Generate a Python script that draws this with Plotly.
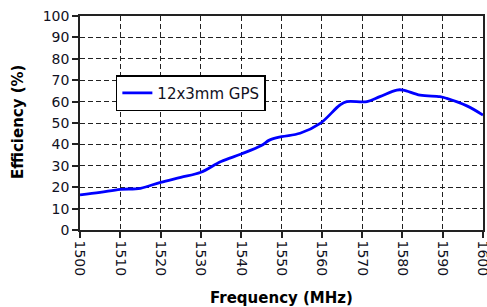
import plotly.graph_objects as go

freq = [1500, 1505, 1510, 1515, 1520, 1525, 1530, 1535, 1540, 1545, 1547, 1550, 1554.6, 1559.6, 1564.5, 1566.2, 1571.2, 1574.4, 1578.6, 1580.2, 1584.4, 1589.3, 1591, 1596, 1600]
eff = [16.4, 17.6, 19.0, 19.5, 22.3, 24.6, 27.0, 32.0, 35.5, 39.5, 42.0, 43.6, 45.2, 49.8, 58.4, 60.0, 60.0, 62.3, 65.4, 65.4, 63.0, 62.3, 61.5, 58.0, 53.7]
series_name = "12x3mm GPS"
x_ticks = list(range(1500, 1601, 10))
y_ticks = list(range(0, 101, 10))
x_title = "Frequency (MHz)"
y_title = "Efficiency (%)"

FONT = "DejaVu Sans"
TXT = "#111122"

fig = go.Figure()
fig.add_trace(go.Scatter(x=freq, y=eff, mode="lines", name=series_name,
                         line=dict(color="#0000ff", width=2.8), line_shape="spline"))

axis_common = dict(showline=True, linecolor="#222", linewidth=1.5, mirror=True,
                   showgrid=True, gridcolor="#222", griddash="5px,3px", gridwidth=1.2,
                   ticks="outside", ticklen=6, tickcolor="#222", tickwidth=1.5,
                   zeroline=False, automargin=False, ticklabeloverflow="allow",
                   tickfont=dict(family=FONT, size=14, color=TXT))

fig.update_xaxes(range=[1500, 1600], tickvals=x_ticks, tickangle=90, **axis_common)
fig.update_yaxes(range=[0, 100], tickvals=y_ticks, **axis_common)

fig.add_annotation(text="<b>%s</b>" % x_title, xref="paper", yref="paper",
                   x=0.5, y=-0.318, xanchor="center", yanchor="middle", showarrow=False,
                   font=dict(family=FONT, size=15, color="black"))
fig.add_annotation(text="<b>%s</b>" % y_title, xref="paper", yref="paper",
                   x=-0.154, y=0.509, xanchor="center", yanchor="middle", showarrow=False,
                   textangle=-90, font=dict(family=FONT, size=15, color="black"))

fig.update_layout(width=487, height=307, margin=dict(l=80, r=4, t=16, b=77),
                  paper_bgcolor="white", plot_bgcolor="white",
                  showlegend=True,
                  legend=dict(x=0.089, y=0.724, xanchor="left", yanchor="top",
                              bgcolor="white", bordercolor="black", borderwidth=1.5,
                              font=dict(family=FONT, size=15, color=TXT)))

fig.write_html("out.html", config={"displayModeBar": False},
               post_script="document.body.style.margin='0';document.body.style.overflow='hidden';")
